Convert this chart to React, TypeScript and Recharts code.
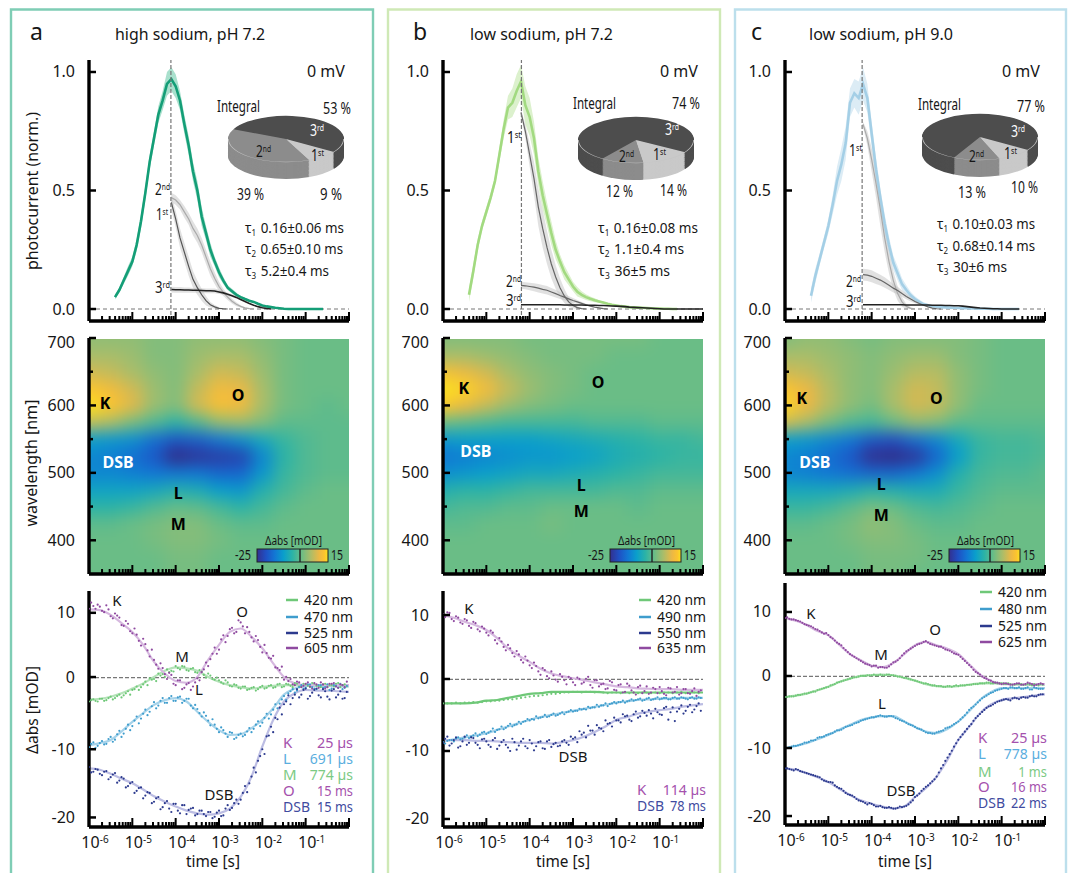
import {
  Area,
  Cell,
  ComposedChart,
  Line,
  Pie,
  PieChart,
  ReferenceLine,
  Scatter,
  ScatterChart,
  XAxis,
  YAxis,
} from 'recharts'

const FONT = '"Noto Sans", sans-serif'
const INK = '#161616'
const PLOT_W = 260
const AXIS_W = 50

// time axis, log10(t / s)
const DECADES = [-6, -5, -4, -3, -2, -1]
const LOG_STEPS = [0.301, 0.477, 0.602, 0.699, 0.778, 0.845, 0.903, 0.954]
const TIME_TICKS = [...DECADES.flatMap((d) => [d, ...LOG_STEPS.map((s) => d + s)]), 0]

// ---- photocurrent traces (top row) ----
const PHOTO_TIMES = [-5.4, -5.3, -5.2, -5.1, -5, -4.9, -4.8, -4.7, -4.6, -4.5, -4.4, -4.3, -4.2, -4.1, -4, -3.9, -3.8, -3.7, -3.6, -3.5, -3.4, -3.3, -3.2, -3.1, -3, -2.9, -2.8, -2.7, -2.6, -2.5, -2.4, -2.3, -2.2, -2.1, -2, -1.9, -1.8, -1.7, -1.6, -1.5, -1.4, -1.3, -1.2, -1.1, -1, -0.9, -0.8, -0.7, -0.6, -0.5, -0.4, -0.3, -0.2, -0.1, 0]

const A_TRACE = [0.05, 0.08, 0.12, 0.16, 0.2, 0.27, 0.37, 0.49, 0.62, 0.72, 0.82, 0.88, 0.95, 0.97, 0.94, 0.88, 0.78, 0.69, 0.58, 0.5, 0.39, 0.32, 0.25, 0.2, 0.155, 0.12, 0.09, 0.075, 0.06, 0.05, 0.042, 0.035, 0.03, 0.022, 0.015, 0.011, 0.008, 0.005, 0.003, 0.001, 0, 0, 0, 0, 0, 0, 0, 0, 0]
const A_TRACE_SD = [0.01, 0.01, 0.015, 0.02, 0.02, 0.025, 0.03, 0.03, 0.03, 0.03, 0.035, 0.04, 0.05, 0.05, 0.05, 0.04, 0.04, 0.04, 0.04, 0.04, 0.04, 0.03, 0.03, 0.02, 0.02, 0.015, 0.01, 0.01, 0.01, 0.005, 0.005]
const A_FIRST = [0.45, 0.38, 0.3, 0.24, 0.18, 0.125, 0.09, 0.06, 0.035, 0.018, 0.009, 0.003, 0.001, 0]
const A_FIRST_SD = [0.03, 0.035, 0.04, 0.04, 0.04, 0.035, 0.03, 0.025, 0.02, 0.012, 0.008, 0.004]
const A_SECOND = [0.47, 0.46, 0.44, 0.41, 0.38, 0.34, 0.31, 0.27, 0.22, 0.17, 0.13, 0.095, 0.07, 0.05, 0.033, 0.02, 0.011, 0.005, 0.002, 0]
const A_SECOND_SD = [0.02, 0.02, 0.02, 0.025, 0.025, 0.03, 0.03, 0.03, 0.03, 0.03, 0.025, 0.02, 0.015, 0.012, 0.01, 0.008, 0.005]
const A_THIRD = [0.082, 0.081, 0.081, 0.08, 0.08, 0.079, 0.079, 0.078, 0.077, 0.077, 0.076, 0.072, 0.068, 0.062, 0.056, 0.049, 0.04, 0.032, 0.023, 0.016, 0.01, 0.005, 0.002, 0]
const A_THIRD_SD = [0.012, 0.012, 0.012, 0.011, 0.011, 0.01, 0.01, 0.01, 0.01, 0.01, 0.01, 0.009, 0.008, 0.007, 0.006, 0.005, 0.004, 0.003]

const B_TRACE = [0.06, 0.16, 0.27, 0.35, 0.41, 0.47, 0.54, 0.65, 0.76, 0.85, 0.87, 0.92, 0.96, 0.86, 0.81, 0.72, 0.58, 0.48, 0.4, 0.32, 0.25, 0.2, 0.155, 0.125, 0.095, 0.073, 0.06, 0.05, 0.043, 0.037, 0.032, 0.027, 0.022, 0.018, 0.015, 0.012, 0.01, 0.008, 0.007, 0.006, 0.005, 0.004, 0.003, 0.002, 0.002, 0.001, 0.001, 0, 0]
const B_TRACE_SD = [0.03, 0.03, 0.025, 0.02, 0.02, 0.02, 0.02, 0.03, 0.04, 0.05, 0.06, 0.07, 0.07, 0.08, 0.08, 0.07, 0.06, 0.06, 0.05, 0.05, 0.04, 0.03, 0.03, 0.025, 0.02, 0.02, 0.015, 0.012, 0.01, 0.008, 0.006, 0.005]
const B_FIRST = [0.83, 0.75, 0.65, 0.55, 0.43, 0.34, 0.26, 0.19, 0.135, 0.09, 0.055, 0.03, 0.015, 0.006, 0.002, 0]
const B_FIRST_SD = [0.01, 0.03, 0.05, 0.07, 0.08, 0.08, 0.07, 0.06, 0.05, 0.04, 0.03, 0.02, 0.012, 0.006]
const B_SECOND = [0.1, 0.098, 0.095, 0.092, 0.088, 0.083, 0.079, 0.072, 0.065, 0.057, 0.05, 0.043, 0.036, 0.03, 0.024, 0.018, 0.012, 0.008, 0.005, 0.002, 0]
const B_SECOND_SD = [0.015, 0.015, 0.016, 0.017, 0.018, 0.018, 0.018, 0.017, 0.016, 0.015, 0.013, 0.012, 0.01, 0.008, 0.006, 0.004]
const B_THIRD = [0.018, 0.018, 0.018, 0.018, 0.018, 0.018, 0.018, 0.018, 0.018, 0.018, 0.017, 0.017, 0.017, 0.017, 0.017, 0.016, 0.016, 0.016, 0.015, 0.015, 0.014, 0.013, 0.012, 0.011, 0.01, 0.008, 0.007, 0.006, 0.005, 0.004, 0.003, 0.002, 0.001, 0, 0, 0, 0, 0, 0, 0, 0, 0, 0]

const C_TRACE = [0.056, 0.14, 0.21, 0.28, 0.35, 0.44, 0.54, 0.61, 0.7, 0.87, 0.91, 0.89, 0.95, 0.89, 0.74, 0.59, 0.47, 0.36, 0.27, 0.195, 0.15, 0.105, 0.08, 0.058, 0.042, 0.03, 0.02, 0.016, 0.012, 0.01, 0.008, 0.007, 0.006, 0.005, 0.004, 0.003, 0.003, 0.002, 0.002, 0.001, 0.001, 0.001, 0, 0, 0, 0, 0, 0, 0]
const C_TRACE_SD = [0.03, 0.03, 0.025, 0.025, 0.03, 0.04, 0.06, 0.07, 0.07, 0.06, 0.06, 0.07, 0.07, 0.06, 0.05, 0.05, 0.04, 0.04, 0.035, 0.03, 0.03, 0.025, 0.02, 0.015, 0.012, 0.01, 0.008, 0.006]
const C_FIRST = [0.78, 0.72, 0.63, 0.53, 0.42, 0.3, 0.2, 0.12, 0.065, 0.03, 0.011, 0.003, 0]
const C_FIRST_SD = [0.01, 0.03, 0.05, 0.06, 0.07, 0.06, 0.05, 0.04, 0.03, 0.02, 0.01, 0.005]
const C_SECOND = [0.145, 0.143, 0.138, 0.13, 0.122, 0.112, 0.1, 0.088, 0.078, 0.065, 0.053, 0.042, 0.032, 0.023, 0.016, 0.009, 0.004, 0.001, 0]
const C_SECOND_SD = [0.025, 0.025, 0.025, 0.024, 0.023, 0.022, 0.02, 0.018, 0.016, 0.014, 0.012, 0.01, 0.008, 0.006]
const C_THIRD = [0.018, 0.018, 0.018, 0.018, 0.018, 0.018, 0.018, 0.018, 0.018, 0.018, 0.017, 0.017, 0.017, 0.017, 0.017, 0.017, 0.016, 0.016, 0.016, 0.015, 0.015, 0.014, 0.014, 0.012, 0.01, 0.008, 0.006, 0.004, 0.003, 0.002, 0.001, 0.001, 0, 0, 0, 0, 0]

// ---- integrals (pies) ----
const PIE_COLORS = ['#4d4d4d', '#8c8c8c', '#c9c9c9']
const A_INTEGRAL = [53, 39, 9]
const B_INTEGRAL = [74, 12, 14]
const C_INTEGRAL = [77, 13, 10]
const PIE_LAYERS = [42, 40, 38, 36, 34, 32, 30, 28, 26, 24, 22, 20, 18, 16, 14, 12, 10, 8, 6, 4, 2, 0]

// ---- absorbance maps (middle row), mOD ----
const HEAT_TIMES = [-6, -5.5, -5, -4.5, -4, -3.5, -3, -2.5, -2, -1.5, -1, -0.5, 0]
const HEAT_NM = [700, 675, 650, 625, 600, 575, 550, 525, 500, 475, 450, 425, 400, 375, 350]
const HEAT_TICKS = [700, 650, 600, 550, 500, 450, 400]

const A_HEAT = [
  [3, 3, 3, 2, 2, 3, 3, 3, 2, 1, 0, 0, 0],
  [5, 5, 4, 2, 2, 4, 5, 5, 3, 1, 0, 0, 0],
  [8, 7, 5, 3, 2, 5, 8, 7, 4, 1, 0, 0, 0],
  [13, 11, 8, 4, 2, 7, 11, 10, 5, 1, 0, 0, 0],
  [16, 13, 9, 4, 2, 8, 12, 11, 5, 1, 0, -1, 0],
  [7, 5, 1, -2, -5, -2, 3, 4, 2, -1, -1, -1, -1],
  [-10, -11, -12, -16, -19, -18, -15, -12, -8, -4, -2, -1, -1],
  [-13, -14, -16, -19, -26, -24, -23, -22, -13, -5, -2, -1, -1],
  [-13, -13, -14, -15, -15, -15, -17, -17, -11, -4, -2, -1, -1],
  [-9, -9, -9, -8, -6, -7, -10, -11, -6, -3, -1, 0, 0],
  [-5, -5, -4, -2, -0.5, -1, -3, -5, -3, -1, 0, 0, 0],
  [-1, -1, 0, 1, 2, 2, 0, -1, -1, 0, 0, 0, 0],
  [0, 0, 0, 1, 2, 2, 1, 0, 0, 0, 0, 0, 0],
  [0, 0, 0, 0, 1, 1, 0, 0, 0, 0, 0, 0, 0],
  [0, 0, 0, 0, 1, 1, 0, 0, 0, 0, 0, 0, 0],
]
const B_HEAT = [
  [2, 2, 2, 2, 1, 1, 1, 1, 1, 1, 0, 0, 0],
  [5, 5, 4, 3, 2, 1, 1, 1, 0, 0, 0, 0, 0],
  [12, 10, 8, 5, 3, 2, 1, 0, 0, 0, 0, 0, 0],
  [16, 14, 11, 7, 4, 2, 1, 0, 0, 0, 0, 0, 0],
  [13, 10, 7, 4, 2, 1, 0, 0, 0, 0, 0, 0, 0],
  [0, -1, -2, -3, -3, -3, -3, -2, -2, -2, -1, -1, -1],
  [-11, -10, -10, -10, -10, -9, -8, -7, -6, -5, -4, -4, -3],
  [-15, -14, -13, -12, -11, -11, -10, -9, -7, -6, -5, -4, -4],
  [-12, -11, -10, -9, -8, -8, -7, -6, -5, -4, -3, -3, -3],
  [-6, -5, -5, -4, -3, -3, -3, -3, -2, -2, -1, -1, -1],
  [-3, -2, -2, -1, -1, 0, 0, 0, 0, -1, 0, 0, 0],
  [-1, -1, 0, 0, 0, 1, 0, 0, 0, 0, 0, 0, 0],
  [0, 0, 0, 0, 0, 0, 0, 0, 0, 0, 0, 0, 0],
  [0, 0, 0, 0, 0, 0, 0, 0, 0, 0, 0, 0, 0],
  [0, 0, 0, 0, 0, 0, 0, 0, 0, 0, 0, 0, 0],
]
const C_HEAT = [
  [2, 3, 3, 2, 1, 2, 2, 2, 2, 1, 0, 0, 0],
  [5, 5, 4, 3, 2, 3, 4, 4, 2, 1, 0, 0, 0],
  [8, 7, 5, 3, 2, 4, 6, 6, 3, 1, 0, 0, 0],
  [13, 10, 6, 3, 2, 5, 8, 7, 3, 1, 0, 0, 0],
  [14, 10, 6, 3, 1, 5, 8, 7, 3, 0, 0, 0, 0],
  [8, 5, 1, -2, -3, 0, 3, 2, -1, -1, -1, -1, -1],
  [-10, -11, -13, -15, -19, -20, -16, -13, -8, -4, -3, -3, -2],
  [-13, -14, -16, -19, -25, -26, -24, -17, -10, -4, -3, -3, -2],
  [-13, -14, -15, -16, -17, -17, -15, -12, -6, -3, -2, -2, -1],
  [-8, -8, -8, -7, -5, -6, -7, -7, -4, -2, -1, -1, -1],
  [-4, -4, -3, -1, 1, 0, -2, -3, -2, -1, 0, 0, 0],
  [-1, -1, 0, 1, 3, 2, 0, -1, -1, 0, 0, 0, 0],
  [0, 0, 0, 1, 2, 2, 1, 0, 0, 0, 0, 0, 0],
  [0, 0, 0, 0, 1, 1, 1, 0, 0, 0, 0, 0, 0],
  [0, 0, 0, 0, 1, 1, 0, 0, 0, 0, 0, 0, 0],
]
const A_HEAT_LABELS = [
  { name: 'K', x: -5.63, y: 603, fill: '#000' },
  { name: 'O', x: -2.56, y: 615, fill: '#000' },
  { name: 'DSB', x: -5.33, y: 516, fill: '#fff' },
  { name: 'L', x: -3.94, y: 470, fill: '#000' },
  { name: 'M', x: -3.94, y: 424, fill: '#000' },
]
const B_HEAT_LABELS = [
  { name: 'K', x: -5.52, y: 626, fill: '#000' },
  { name: 'O', x: -2.42, y: 635, fill: '#000' },
  { name: 'DSB', x: -5.24, y: 532, fill: '#fff' },
  { name: 'L', x: -2.81, y: 482, fill: '#000' },
  { name: 'M', x: -2.81, y: 444, fill: '#000' },
]
const C_HEAT_LABELS = [
  { name: 'K', x: -5.61, y: 611, fill: '#000' },
  { name: 'O', x: -2.51, y: 611, fill: '#000' },
  { name: 'DSB', x: -5.31, y: 516, fill: '#fff' },
  { name: 'L', x: -3.78, y: 483, fill: '#000' },
  { name: 'M', x: -3.78, y: 437, fill: '#000' },
]
const HEAT_STOPS: [number, string][] = [
  [-28, '#2f2478'],
  [-25, '#33308f'],
  [-20, '#1f50c4'],
  [-15, '#1277d4'],
  [-10, '#0a9fcb'],
  [-5, '#2cb3a6'],
  [0, '#6abd86'],
  [5, '#a9bd6a'],
  [10, '#ecb845'],
  [13, '#fcc42f'],
  [15, '#f8e41f'],
]

// ---- kinetic traces (bottom row), mOD ----
const FIT_TIMES = [-6, -5.75, -5.5, -5.25, -5, -4.75, -4.5, -4.25, -4, -3.75, -3.5, -3.25, -3, -2.75, -2.5, -2.25, -2, -1.75, -1.5, -1.25, -1, -0.75, -0.5, -0.25, 0]
const DOT_TIMES = [-6, -5.9, -5.8, -5.7, -5.6, -5.5, -5.4, -5.3, -5.2, -5.1, -5, -4.9, -4.8, -4.7, -4.6, -4.5, -4.4, -4.3, -4.2, -4.1, -4, -3.9, -3.8, -3.7, -3.6, -3.5, -3.4, -3.3, -3.2, -3.1, -3, -2.9, -2.8, -2.7, -2.6, -2.5, -2.4, -2.3, -2.2, -2.1, -2, -1.9, -1.8, -1.7, -1.6, -1.5, -1.4, -1.3, -1.2, -1.1, -1, -0.9, -0.8, -0.7, -0.6, -0.5, -0.4, -0.3, -0.2, -0.1]
const DOT_TIMES_2 = [-5.95, -5.85, -5.75, -5.65, -5.55, -5.45, -5.35, -5.25, -5.15, -5.05, -4.95, -4.85, -4.75, -4.65, -4.55, -4.45, -4.35, -4.25, -4.15, -4.05, -3.95, -3.85, -3.75, -3.65, -3.55, -3.45, -3.35, -3.25, -3.15, -3.05, -2.95, -2.85, -2.75, -2.65, -2.55, -2.45, -2.35, -2.25, -2.15, -2.05, -1.95, -1.85, -1.75, -1.65, -1.55, -1.45, -1.35, -1.25, -1.15, -1.05, -0.95, -0.85, -0.75, -0.65, -0.55, -0.45, -0.35, -0.25, -0.15, -0.05]

const A_FIT_420 = [-2.7, -2.6, -2.3, -1.8, -1.1, -0.35, 0.6, 1.5, 2, 1.85, 1.5, 0.6, -0.1, -0.6, -0.9, -1.1, -0.9, -0.7, -0.6, -0.6, -0.6, -0.6, -0.6, -0.7, -0.7]
const A_DOTS_420 = [-3, -2.7, -3, -2.6, -2.8, -2.3, -2.5, -2, -2.1, -1.5, -1.3, -0.8, -0.9, -0.1, 0.4, 0.3, 1.1, 1, 1.7, 1.5, 2.2, 1.7, 2.1, 1.5, 1.9, 1.2, 1.4, 0.5, 0.8, 0.2, 0.1, -0.4, -0.2, -0.8, -0.6, -1.1, -0.8, -1.2, -0.9, -1.2, -0.7, -1, -0.6, -0.9, -0.4, -0.8, -0.5, -0.9, -0.4, -0.8, -0.5, -0.9, -0.4, -0.8, -0.5, -0.9, -0.6, -0.4, -0.9, -0.5]
const A_DOTS2_420 = [-2.8, -2.9, -2.6, -2.9, -2.5, -2.7, -2.2, -2.4, -1.8, -2, -1.2, -1.3, -0.5, -0.6, 0.2, 0, 0.8, 0.6, 1.3, 1.4, 1.9, 2.2, 1.6, 1.8, 1.3, 1.6, 0.9, 1.1, 0.3, 0.5, -0.2, 0.1, -0.7, -0.5, -1, -0.8, -1.3, -1, -1.4, -0.9, -1.1, -0.7, -1, -0.5, -0.9, -0.4, -0.7, -0.3, -0.8, -0.4, -0.7, -0.3, -0.7, -0.9, -0.4, -0.6, -0.8, -0.3, -0.6, -0.8]
const A_FIT_470 = [-9.4, -9.1, -8.65, -7.4, -6, -4.7, -3.5, -2.8, -2.5, -3, -4.5, -6, -7.2, -7.9, -7.8, -6.9, -5.7, -4, -2, -1.1, -0.7, -0.7, -0.7, -0.8, -0.8]
const A_DOTS_470 = [-9.7, -9, -9.5, -8.8, -9.2, -8.2, -8.6, -7.3, -7.7, -6.4, -6.6, -5.2, -5.5, -4.2, -4.5, -3.1, -3.6, -2.5, -3.2, -2.2, -2.9, -2.3, -2.9, -2.6, -4, -4.1, -5.2, -5.1, -6.5, -6.4, -7.5, -7.2, -8.2, -7.6, -8.3, -7.7, -7.9, -6.9, -7, -5.9, -6.1, -4.8, -4.9, -3.4, -3.3, -2.2, -1.8, -1.2, -1.4, -0.6, -1, -0.5, -1.1, -0.6, -1, -0.5, -1.1, -0.7, -0.4, -1]
const A_DOTS2_470 = [-9.2, -9.8, -9.1, -9.3, -8.5, -8.9, -7.8, -8.2, -7, -7.2, -5.8, -6.2, -4.8, -5, -3.7, -4, -2.9, -3.2, -2.5, -2.9, -2.4, -3.2, -2.6, -3.6, -3.5, -4.7, -4.6, -5.8, -5.6, -7, -6.8, -7.7, -7.5, -8.5, -7.9, -8.1, -7.4, -7.5, -6.4, -6.6, -5.4, -5.5, -4.2, -4, -2.7, -2.8, -1.5, -1.7, -0.9, -1.1, -0.5, -0.9, -1.2, -0.6, -0.9, -1.3, -0.6, -1, -1.2, -0.7]
const A_FIT_525 = [-12.8, -13, -13.6, -14.3, -15, -15.9, -16.9, -17.7, -18.4, -19, -19.4, -19.6, -19.4, -18.7, -17, -14, -9.6, -5.7, -3, -1.8, -1.3, -1.4, -1.4, -1.5, -1.6]
const A_DOTS_525 = [-12.6, -13.3, -13, -13.8, -13.2, -14.1, -13.5, -14.6, -14.3, -15.4, -14.8, -16.1, -15.6, -16.8, -16.4, -17.7, -17, -18.5, -17.6, -19.2, -18, -19.4, -18.2, -18.9, -18.6, -19.5, -19, -19.8, -19.2, -19.9, -19, -19.7, -18.2, -18.6, -17.4, -17.4, -15.4, -15, -12.7, -11.7, -10, -8.1, -6.7, -5.4, -3.9, -3.4, -2.1, -2.5, -1.2, -2, -1.1, -2.2, -1.3, -2.1, -1.2, -2.3, -1.4, -2.4, -1.5, -2.5]
const A_DOTS2_525 = [-13.4, -12.9, -13.6, -13.3, -14.4, -13.7, -14.9, -14.1, -15.6, -15, -16.4, -15.7, -17.2, -16.3, -17.9, -17.2, -18.8, -17.9, -18.7, -18, -19, -18.2, -19.5, -18.7, -19.7, -19, -19.5, -19.2, -20.1, -19.3, -19.8, -18.7, -18.9, -17.9, -18, -16.4, -16.3, -14, -13.4, -11, -10.7, -8, -7.5, -5.6, -4.9, -3, -3.4, -2, -2.4, -1.3, -2.6, -1.7, -1.1, -2.4, -1.5, -2.7, -1.2, -2, -2.6, -1.6]
const A_FIT_605 = [10.5, 10.4, 9.7, 8.5, 7.2, 5.3, 2.8, 1.1, 0, -0.25, 0.6, 3.1, 5.3, 7.2, 7.7, 6.5, 4.8, 2.6, 0.6, -0.35, -0.6, -0.6, -0.6, -0.6, -0.6]
const A_DOTS_605 = [10.6, 11, 11.2, 10.3, 11.1, 9.5, 9.9, 9.3, 8.1, 8.4, 7, 6.8, 5.2, 5.4, 3.6, 3.1, 1.8, 1.9, 0.3, 0.9, -0.6, 0.1, -1, -0.3, -0.8, 0.4, 1.3, 2.7, 3.2, 4.9, 4.6, 6.7, 6.6, 7.8, 7.2, 8.6, 7, 7.2, 5.8, 6, 4.2, 4.1, 3.3, 2, 1.6, 0.2, 0, -0.5, -0.1, -0.9, -0.4, -0.8, -0.3, -1, -0.5, -0.9, -0.4, -0.8, -0.5, -0.9]
const A_DOTS2_605 = [11.5, 10.6, 10.9, 10.1, 10.5, 9.2, 9.6, 8.2, 8.8, 7.3, 7.7, 5.9, 6.2, 4.5, 4.6, 2.4, 2.6, 1, 1.2, -0.4, 0.1, -1.2, -0.5, -1.3, -0.2, 0.1, 1.7, 2.2, 4, 4, 6.1, 5.7, 7.6, 7, 8.9, 8, 7.9, 6.4, 6.6, 5, 5.3, 3.4, 3.7, 1.9, 2.1, 0.6, 0.3, -0.6, -0.2, -0.7, -0.2, -1.1, -0.5, -0.2, -1.1, -0.4, -0.3, -1, -0.6, -0.1]

const B_FIT_420 = [-3, -3, -3, -2.9, -2.6, -2.5, -2.2, -1.9, -1.6, -1.5, -1.3, -1.3, -1.3, -1.3, -1.3, -1.4, -1.4, -1.4, -1.4, -1.4, -1.4, -1.4, -1.4, -1.4, -1.4]
const B_DOTS_420 = [-3, -3, -3, -2.9, -3, -2.9, -2.9, -2.8, -2.9, -2.8, -2.7, -2.7, -2.6, -2.6, -2.5, -2.4, -2.4, -2.3, -2.2, -2.1, -2, -1.9, -1.9, -1.8, -1.7, -1.6, -1.6, -1.5, -1.4, -1.4, -1.3, -1.3, -1.4, -1.3, -1.3, -1.4, -1.3, -1.4, -1.5, -1.4, -1.4, -1.5, -1.4, -1.5, -1.4, -1.5, -1.4, -1.4, -1.5, -1.4, -1.5, -1.4, -1.4, -1.5, -1.4, -1.3, -1.5, -1.4, -1.4, -1.5]
const B_FIT_490 = [-8.6, -8.3, -8, -7.7, -7.4, -6.9, -6.4, -5.9, -5.4, -5, -4.7, -4.4, -4.1, -3.8, -3.5, -3.2, -2.9, -2.7, -2.5, -2.4, -2.3, -2.3, -2.2, -2.2, -2.2]
const B_DOTS_490 = [-8.7, -8.5, -8.4, -8.2, -8.3, -8, -8.1, -7.7, -7.8, -7.3, -7.5, -7.1, -7.2, -6.8, -6.8, -6.3, -6.4, -6.1, -6, -5.6, -5.5, -5.4, -5.2, -5, -5, -4.7, -4.8, -4.5, -4.6, -4.2, -4.2, -4.1, -3.9, -3.9, -3.7, -3.6, -3.5, -3.3, -3.4, -3, -3, -2.8, -2.9, -2.6, -2.6, -2.4, -2.6, -2.3, -2.5, -2.3, -2.4, -2.2, -2.4, -2.2, -2.3, -2.1, -2.3, -2.2, -2.3, -2.1]
const B_DOTS2_490 = [-8.9, -8.4, -8.6, -8, -8.2, -7.7, -7.9, -7.4, -7.6, -7.2, -7.3, -6.7, -6.9, -6.4, -6.6, -6, -6.2, -5.7, -5.7, -5.3, -5.3, -4.9, -5.1, -4.7, -4.9, -4.5, -4.7, -4.3, -4.3, -4, -4.1, -3.8, -3.8, -3.5, -3.6, -3.2, -3.3, -3, -3.1, -2.8, -2.8, -2.6, -2.7, -2.4, -2.5, -2.3, -2.5, -2.2, -2.4, -2.1, -2.3, -2.2, -2.4, -2.1, -2.3, -2.2, -2.4, -2.1, -2.3, -2.2]
const B_FIT_550 = [-8.4, -8.4, -8.4, -8.5, -8.5, -8.6, -8.7, -8.8, -8.8, -8.8, -8.9, -8.7, -8.4, -7.9, -7.2, -6.4, -5.4, -5, -4.5, -4.2, -4, -3.8, -3.5, -3.3, -3.1]
const B_DOTS_550 = [-8.8, -7.9, -8.9, -8, -9.3, -7.9, -8.8, -8.1, -9.1, -8.3, -8.6, -9.4, -8.1, -9.2, -8.4, -9.5, -8.2, -9.8, -8.6, -9.3, -8.4, -9.9, -8.7, -9.6, -8.6, -9.4, -8.8, -9.2, -8.4, -9.1, -8.2, -8.7, -7.6, -8, -7, -7.6, -6.6, -7.1, -6, -6.4, -5.5, -5.8, -4.9, -5.4, -4.6, -5.1, -4.1, -4.8, -4.5, -3.8, -4.6, -3.7, -5.4, -3.6, -4.2, -3.3, -4.1, -3.2, -3.9, -3]
const B_DOTS2_550 = [-8.2, -9.2, -8.4, -9.5, -8.6, -9.1, -8, -8.8, -9.6, -8.2, -9.1, -8.4, -9.7, -8.7, -9.1, -10, -8.7, -9.2, -8.2, -9.6, -8.9, -9.3, -8.6, -9.7, -8.4, -9, -9.3, -8.6, -8.8, -7.9, -8, -7.1, -7.3, -6.3, -7, -6.2, -6.7, -5.5, -5.9, -5.1, -5.5, -4.6, -4.8, -5.6, -4.2, -4.9, -4.4, -4, -5.2, -4.3, -4.7, -3.5, -4.3, -5.6, -3.8, -4.5, -3.5, -4.3, -3.4, -4.1]
const B_FIT_635 = [10, 9.6, 9, 8.5, 7.8, 6.6, 5.1, 4, 3.1, 2.1, 1.4, 1, 0.7, 0.4, 0.1, -0.2, -0.5, -0.6, -0.8, -0.85, -0.9, -0.9, -1, -1, -1]
const B_DOTS_635 = [10.1, 10.4, 9.4, 9.8, 8.9, 9.4, 8.4, 9, 7.9, 8.3, 7.4, 7.7, 6.3, 6.6, 5.3, 5.6, 4.4, 4.7, 3.4, 3.9, 2.6, 3, 1.7, 2.2, 1, 1.7, 0.5, 1.3, 0.4, 0.9, 0.1, 0.8, -0.1, 0.6, -0.3, 0.4, -0.5, -0.1, -0.8, 0.1, -1.1, -0.2, -1.3, -0.4, -1.4, -0.6, -1.5, -0.5, -1.4, -0.9, -0.6, -1.6, -0.7, -1.4, -0.6, -1.5, -0.9, -1.6, -0.8, -1.3]
const B_DOTS2_635 = [9.7, 10.3, 9.1, 9.6, 8.7, 9.2, 8.1, 8.8, 7.6, 8, 7, 7.4, 5.8, 6.1, 4.8, 5.1, 3.9, 4.2, 3, 3.3, 2.2, 2.5, 1.2, 1.9, 0.7, 1.1, 0.2, 0.9, -0.2, 0.7, -0.3, 0.6, 0.1, 0.9, -0.7, 0.4, -0.2, -0.9, 0.3, -1, -0.3, -1.4, -0.1, -1.1, -1.7, -0.4, -1.2, -1.6, -0.7, -1.5, -1.2, -1.8, -0.8, -1.3, -1.7, -0.9, -1.5, -1.2, -1.9, -1.1]

const C_FIT_420 = [-2.5, -2.3, -2, -1.5, -1, -0.3, 0.2, 0.6, 0.7, 0.8, 0.7, 0.3, -0.1, -0.6, -0.9, -1, -0.9, -0.7, -0.5, -0.5, -0.5, -0.6, -0.7, -0.7, -0.7]
const C_DOTS_420 = [-2.5, -2.4, -2.4, -2.2, -2.1, -2, -1.8, -1.7, -1.4, -1.2, -1, -0.7, -0.4, -0.2, 0, 0.2, 0.4, 0.5, 0.6, 0.7, 0.7, 0.7, 0.8, 0.7, 0.8, 0.7, 0.5, 0.4, 0.3, 0.1, -0.1, -0.3, -0.5, -0.6, -0.8, -0.9, -0.9, -1, -0.9, -0.9, -0.9, -0.8, -0.7, -0.7, -0.6, -0.5, -0.5, -0.4, -0.5, -0.5, -0.5, -0.6, -0.6, -0.7, -0.6, -0.7, -0.6, -0.8, -0.7, -0.6]
const C_DOTS2_420 = [-2.5, -2.4, -2.3, -2.2, -2, -1.9, -1.7, -1.5, -1.3, -1.1, -0.8, -0.6, -0.3, -0.1, 0.1, 0.3, 0.4, 0.6, 0.6, 0.7, 0.8, 0.7, 0.7, 0.8, 0.7, 0.6, 0.5, 0.3, 0.2, 0, -0.2, -0.4, -0.5, -0.7, -0.8, -0.9, -1, -0.9, -1, -0.8, -0.8, -0.8, -0.7, -0.6, -0.6, -0.5, -0.4, -0.5, -0.4, -0.5, -0.6, -0.5, -0.7, -0.6, -0.6, -0.7, -0.7, -0.6, -0.8, -0.7]
const C_FIT_480 = [-10, -9.7, -9.3, -8.7, -8.1, -7.3, -6.6, -5.9, -5.5, -5.3, -5.3, -6.1, -6.9, -7.6, -7.8, -7.2, -6.1, -4.6, -2.9, -1.8, -1.2, -1.2, -1.2, -1.2, -1.2]
const C_DOTS_480 = [-10, -9.9, -9.7, -9.6, -9.4, -9.2, -8.9, -8.8, -8.4, -8.3, -8, -7.8, -7.4, -7.3, -6.9, -6.7, -6.4, -6.2, -5.9, -5.7, -5.5, -5.4, -5.2, -5.4, -5.3, -5.4, -5.7, -6, -6.3, -6.6, -6.9, -7.2, -7.5, -7.8, -7.9, -7.7, -7.5, -7.1, -6.9, -6.5, -6.1, -5.5, -4.8, -4.1, -3.6, -3, -2.5, -2.1, -1.8, -1.5, -1.3, -1.2, -1.1, -1.2, -1.1, -1.3, -1.1, -1.4, -1.2, -1.3]
const C_DOTS2_480 = [-10, -9.8, -9.7, -9.5, -9.2, -9.1, -8.9, -8.5, -8.4, -8.1, -7.9, -7.6, -7.4, -7.1, -6.8, -6.6, -6.3, -6, -5.8, -5.6, -5.5, -5.3, -5.3, -5.4, -5.3, -5.6, -5.9, -6.1, -6.5, -6.7, -7.1, -7.3, -7.7, -7.8, -7.9, -7.6, -7.4, -7, -6.7, -6.3, -5.8, -5.2, -4.4, -3.9, -3.3, -2.7, -2.3, -1.9, -1.6, -1.4, -1.2, -1.3, -1.1, -1.2, -1.3, -1.2, -1.4, -1.1, -1.3, -1.3]
const C_FIT_525 = [-13, -13.2, -13.7, -14.3, -15, -16, -16.9, -17.7, -18.2, -18.6, -18.9, -18.6, -17.2, -15.9, -14.2, -11.7, -8.8, -6.9, -4.9, -3.6, -2.9, -2.7, -2.5, -2.3, -2.1]
const C_DOTS_525 = [-13, -13.1, -13.3, -13.2, -13.5, -13.7, -13.9, -14.1, -14.3, -14.8, -15, -15.1, -15.7, -16, -16.6, -16.9, -17.2, -17.7, -17.9, -18.3, -18.2, -18.6, -18.5, -18.8, -18.7, -18.9, -18.8, -18.7, -18.5, -18, -17.2, -16.7, -16, -15.5, -14.9, -14.2, -13, -11.9, -10.9, -9.8, -8.8, -8, -7.2, -6.5, -5.6, -5, -4.4, -3.9, -3.6, -3.2, -3, -2.8, -3, -2.6, -2.8, -2.5, -2.6, -2.3, -2.4, -2.1]
const C_DOTS2_525 = [-13, -13.2, -13.1, -13.4, -13.6, -13.8, -14, -14.2, -14.6, -14.9, -15, -15.5, -15.9, -16.3, -16.8, -17, -17.5, -17.8, -18.1, -18.1, -18.4, -18.6, -18.7, -18.8, -18.8, -18.9, -18.6, -18.6, -18.3, -17.7, -17, -16.3, -15.7, -15.2, -14.6, -13.6, -12.5, -11.4, -10.4, -9.3, -8.4, -7.6, -6.8, -6, -5.3, -4.7, -4.1, -3.8, -3.4, -3.1, -2.9, -2.9, -2.7, -2.7, -2.6, -2.6, -2.4, -2.4, -2.2, -2.1]
const C_FIT_625 = [9.1, 8.7, 8.1, 7.2, 6.6, 5.2, 3.8, 2.9, 2.1, 1.9, 2.5, 3.8, 5.1, 5.6, 5.1, 4.6, 3.8, 2.3, 0.8, -0.1, -0.6, -0.6, -0.6, -0.6, -0.6]
const C_DOTS_625 = [9.1, 9, 8.9, 8.7, 8.4, 8.1, 7.9, 7.5, 7.2, 6.8, 6.6, 6.1, 5.5, 5.1, 4.4, 3.8, 3.4, 3, 2.6, 2.3, 2, 2.1, 1.9, 1.8, 2, 2.6, 2.9, 3.6, 4.2, 4.6, 5, 5.3, 5.6, 5.5, 5.2, 5, 4.9, 4.5, 4.3, 3.9, 3.7, 3.1, 2.5, 1.9, 1.2, 0.8, 0.3, 0, -0.3, -0.4, -0.6, -0.5, -0.7, -0.6, -0.5, -0.7, -0.4, -0.6, -0.7, -0.5]
const C_DOTS2_625 = [9.2, 8.9, 8.8, 8.6, 8.2, 8, 7.7, 7.4, 7, 6.9, 6.3, 5.8, 5.3, 4.7, 4.1, 3.6, 3.2, 2.8, 2.4, 2.2, 2.1, 1.8, 1.9, 1.8, 2.3, 2.7, 3.2, 3.9, 4.4, 4.8, 5.2, 5.4, 5.7, 5.3, 5.1, 4.9, 4.7, 4.4, 4.1, 3.8, 3.4, 2.8, 2.2, 1.5, 1, 0.5, 0.2, -0.1, -0.4, -0.5, -0.5, -0.6, -0.7, -0.5, -0.7, -0.6, -0.5, -0.8, -0.6, -0.6]

const KIN_TICKS = [10, 0, -10, -20]
const GREEN = { dot: '#6fc878', fit: '#b5e3b9', text: '#7cca84' }
const BLUE = { dot: '#3f9dcd', fit: '#a6d3ea', text: '#5aaede' }
const NAVY = { dot: '#2c3a8e', fit: '#bcbde3', text: '#3f4ba0' }
const PURPLE = { dot: '#8f4aa0', fit: '#d6b8df', text: '#a551ad' }

const PANELS = [
  {
    letter: 'a', letterX: 30, title: 'high sodium, pH 7.2', titleX: 115, titleW: 150,
    border: { x: 11, w: 362, color: '#7fcdb5' }, plotX: 89,
    trace: A_TRACE, traceSd: A_TRACE_SD, traceColor: '#149e77', bandColor: '#a9e0cd',
    start: 13, peakT: -4.11,
    comps: [
      { v: A_FIRST, sd: A_FIRST_SD, color: '#555' },
      { v: A_SECOND, sd: A_SECOND_SD, color: '#aaa' },
      { v: A_THIRD, sd: A_THIRD_SD, color: '#222' },
    ],
    pie: { v: A_INTEGRAL, cx: 286, cy: 139, start: -34 },
    heat: A_HEAT, heatLabels: A_HEAT_LABELS,
    kinY: [-21.4, 13.2] as [number, number], zero: 0.49,
    series: [
      { c: GREEN, name: '420 nm', fit: A_FIT_420, dots: A_DOTS_420, dots2: A_DOTS2_420 },
      { c: BLUE, name: '470 nm', fit: A_FIT_470, dots: A_DOTS_470, dots2: A_DOTS2_470 },
      { c: NAVY, name: '525 nm', fit: A_FIT_525, dots: A_DOTS_525, dots2: A_DOTS2_525 },
      { c: PURPLE, name: '605 nm', fit: A_FIT_605, dots: A_DOTS_605, dots2: A_DOTS2_605 },
    ],
  },
  {
    letter: 'b', letterX: 413, title: 'low sodium, pH 7.2', titleX: 470, titleW: 143,
    border: { x: 388, w: 332, color: '#cfe9b6' }, plotX: 443,
    trace: B_TRACE, traceSd: B_TRACE_SD, traceColor: '#a2da80', bandColor: '#dcf1cd',
    start: 12, peakT: -4.19,
    comps: [
      { v: B_FIRST, sd: B_FIRST_SD, color: '#666' },
      { v: B_SECOND, sd: B_SECOND_SD, color: '#666' },
      { v: B_THIRD, sd: [], color: '#222' },
    ],
    pie: { v: B_INTEGRAL, cx: 636, cy: 140, start: -32 },
    heat: B_HEAT, heatLabels: B_HEAT_LABELS,
    kinY: [-21.18, 13.53] as [number, number], zero: 0.54,
    series: [
      { c: { ...GREEN, fit: GREEN.dot }, name: '420 nm', fit: B_FIT_420, dots: B_DOTS_420, dots2: [] },
      { c: BLUE, name: '490 nm', fit: B_FIT_490, dots: B_DOTS_490, dots2: B_DOTS2_490 },
      { c: NAVY, name: '550 nm', fit: B_FIT_550, dots: B_DOTS_550, dots2: B_DOTS2_550 },
      { c: PURPLE, name: '635 nm', fit: B_FIT_635, dots: B_DOTS_635, dots2: B_DOTS2_635 },
    ],
  },
  {
    letter: 'c', letterX: 751, title: 'low sodium, pH 9.0', titleX: 809, titleW: 144,
    border: { x: 735, w: 331, color: '#bcdfec' }, plotX: 785,
    trace: C_TRACE, traceSd: C_TRACE_SD, traceColor: '#a4cfe6', bandColor: '#dcecf5',
    start: 12, peakT: -4.22,
    comps: [
      { v: C_FIRST, sd: C_FIRST_SD, color: '#aaa' },
      { v: C_SECOND, sd: C_SECOND_SD, color: '#666' },
      { v: C_THIRD, sd: [], color: '#222' },
    ],
    pie: { v: C_INTEGRAL, cx: 980, cy: 137, start: -34 },
    heat: C_HEAT, heatLabels: C_HEAT_LABELS,
    kinY: [-21.32, 14.26] as [number, number], zero: 0.54,
    series: [
      { c: GREEN, name: '420 nm', fit: C_FIT_420, dots: C_DOTS_420, dots2: C_DOTS2_420 },
      { c: BLUE, name: '480 nm', fit: C_FIT_480, dots: C_DOTS_480, dots2: C_DOTS2_480 },
      { c: NAVY, name: '525 nm', fit: C_FIT_525, dots: C_DOTS_525, dots2: C_DOTS2_525 },
      { c: PURPLE, name: '625 nm', fit: C_FIT_625, dots: C_DOTS_625, dots2: C_DOTS2_625 },
    ],
  },
]

function heatColor(v: number) {
  const stops = HEAT_STOPS
  for (let i = 1; i < stops.length; i++) {
    if (v <= stops[i][0]) {
      const [v0, c0] = stops[i - 1]
      const [v1, c1] = stops[i]
      const f = Math.max(0, (v - v0) / (v1 - v0))
      const ch = (c: string, k: number) => parseInt(c.slice(1 + k * 2, 3 + k * 2), 16)
      const mix = [0, 1, 2].map((k) => Math.round(ch(c0, k) + (ch(c1, k) - ch(c0, k)) * f))
      return `rgb(${mix.join(',')})`
    }
  }
  return stops[stops.length - 1][1]
}

function TimeTick({ x, y, payload, showLabels }: any) {
  const major = Number.isInteger(payload.value)
  return (
    <g>
      <line x1={x} x2={x} y1={y} y2={y - (major ? 9 : 5)} stroke="#000" strokeWidth={2} />
      {showLabels && major && payload.value < 0 && (
        <text x={x + 6} y={y + 21} textAnchor="middle" fontFamily={FONT} fontSize={16} fill={INK}>
          10<tspan dy={-5} fontSize={10}>{payload.value}</tspan>
        </text>
      )}
    </g>
  )
}

function ValueTick({ x, y, payload, decimals, nudge, longEvery, labelDrop = 0 }: any) {
  const minor = longEvery && payload.value % longEvery !== 0
  const yy = y + (payload.value === 0 && nudge ? nudge : 0)
  return (
    <g>
      <line x1={x} x2={x + (minor ? 4 : 7)} y1={yy} y2={yy} stroke="#000" strokeWidth={2.5} />
      {!minor && (
        <text
          x={x - 14}
          y={yy + 5.5 + (payload.value === 700 ? labelDrop : 0)}
          textAnchor="end"
          fontFamily={FONT}
          fontSize={16}
          fill={INK}
        >
          {payload.value.toFixed(decimals)}
        </text>
      )}
    </g>
  )
}

const AXIS_LINE = { stroke: '#000', strokeWidth: 3.4 }

function timeAxis(height: number, showLabels: boolean) {
  return (
    <XAxis
      type="number"
      dataKey="x"
      domain={[-6, 0]}
      allowDataOverflow
      ticks={TIME_TICKS}
      interval={0}
      height={height}
      axisLine={AXIS_LINE}
      tickLine={false}
      tickSize={0}
      tickMargin={0}
      tick={(p: any) => <TimeTick {...p} showLabels={showLabels} />}
    />
  )
}

function photoRows(p: (typeof PANELS)[number]) {
  return PHOTO_TIMES.map((x, i) => {
    const row: any = { x }
    if (p.trace[i] != null) {
      const sd = p.traceSd[i] ?? 0.002
      row.trace = p.trace[i]
      row.traceBand = [p.trace[i] - sd, p.trace[i] + sd]
    }
    p.comps.forEach((c, k) => {
      const v = c.v[i - p.start]
      if (v != null) {
        const sd = c.sd[i - p.start] ?? 0.001
        row[`comp${k}`] = v
        row[`band${k}`] = [Math.max(v - sd, 0), v + sd]
      }
    })
    return row
  })
}

function PhotoChart({ p }: { p: (typeof PANELS)[number] }) {
  return (
    <div style={{ position: 'absolute', left: p.plotX - AXIS_W, top: 60 }}>
      <ComposedChart width={AXIS_W + PLOT_W + 3} height={268} data={photoRows(p)} margin={{ top: 0, right: 3, left: 0, bottom: 0 }}>
        {timeAxis(7, false)}
        <YAxis
          type="number"
          width={AXIS_W}
          domain={[-0.0506, 1.0506]}
          allowDataOverflow
          ticks={[0, 0.5, 1]}
          axisLine={AXIS_LINE}
          tickLine={false}
          tickSize={0}
          tickMargin={0}
          tick={(t: any) => <ValueTick {...t} decimals={1} />}
        />
        <Area dataKey="traceBand" stroke="none" fill={p.bandColor} fillOpacity={1} isAnimationActive={false} dot={false} activeDot={false} />
        <ReferenceLine y={0} stroke="#777" strokeDasharray="4 3" strokeWidth={1} />
        {p.comps.map((c, k) => (
          <Area key={k} dataKey={`band${k}`} stroke="none" fill="#bdbdbd" fillOpacity={0.45} isAnimationActive={false} dot={false} activeDot={false} />
        ))}
        <Line dataKey="trace" stroke={p.traceColor} strokeWidth={2.6} dot={false} activeDot={false} isAnimationActive={false} />
        {p.comps.map((c, k) => (
          <Line key={k} dataKey={`comp${k}`} stroke={c.color} strokeWidth={k === 2 ? 1.6 : 1.2} dot={false} activeDot={false} isAnimationActive={false} />
        ))}
        <ReferenceLine x={p.peakT} stroke="#777" strokeDasharray="4 2" strokeWidth={1.2} />
      </ComposedChart>
    </div>
  )
}

function IntegralPie({ pie }: { pie: (typeof PANELS)[number]['pie'] }) {
  const data = pie.v.map((value, i) => ({ name: `${i}`, value }))
  return (
    <div style={{ position: 'absolute', left: pie.cx - 62, top: pie.cy - 62, transform: 'scaleY(0.4)', transformOrigin: '62px 62px' }}>
      <PieChart width={124} height={170} margin={{ top: 0, right: 0, bottom: 0, left: 0 }}>
        {PIE_LAYERS.map((d) => (
          <Pie
            key={d}
            data={data}
            dataKey="value"
            cx={62}
            cy={62 + d}
            outerRadius={58}
            startAngle={pie.start}
            endAngle={pie.start + 360}
            stroke="none"
            isAnimationActive={false}
          >
            {data.map((_, i) => (
              <Cell key={i} fill={PIE_COLORS[i]} />
            ))}
          </Pie>
        ))}
        <Pie
          data={[{ name: 'rim', value: 1 }]}
          dataKey="value"
          cx={62}
          cy={62}
          innerRadius={57.2}
          outerRadius={58}
          startAngle={180}
          endAngle={360}
          stroke="none"
          fill="#c4c4c4"
          isAnimationActive={false}
        />
      </PieChart>
    </div>
  )
}

function HeatChart({ p }: { p: (typeof PANELS)[number] }) {
  const cells = HEAT_NM.flatMap((nm, r) => HEAT_TIMES.map((x, c) => ({ x, y: nm, v: p.heat[r][c] })))
  const cellW = PLOT_W / 12
  const cellH = 235 / 14
  const pad = 30
  const shape = (s: any) => {
    const left = s.payload.x === -6 ? pad : 0
    const right = s.payload.x === 0 ? pad : 0
    const top = s.payload.y === 700 ? pad : 0
    const bottom = s.payload.y === 350 ? pad : 0
    return (
      <rect
        x={s.cx - cellW / 2 - left}
        y={s.cy - cellH / 2 - top}
        width={cellW + left + right + 1}
        height={cellH + top + bottom + 1}
        fill={heatColor(s.payload.v)}
      />
    )
  }
  return (
    <>
      <div style={{ position: 'absolute', left: p.plotX, top: 339, width: PLOT_W, height: 235, overflow: 'hidden' }}>
        <div style={{ position: 'absolute', left: -pad, top: -pad, filter: 'blur(8px)' }}>
          <ScatterChart width={PLOT_W + 2 * pad} height={235 + 2 * pad} margin={{ top: pad, right: pad, left: pad, bottom: pad }}>
            <XAxis type="number" dataKey="x" domain={[-6, 0]} hide />
            <YAxis type="number" dataKey="y" domain={[350, 700]} hide />
            <Scatter data={cells} dataKey="y" shape={shape} isAnimationActive={false} />
          </ScatterChart>
        </div>
      </div>
      <div style={{ position: 'absolute', left: p.plotX - AXIS_W, top: 326 }}>
        <ComposedChart width={AXIS_W + PLOT_W + 3} height={255} margin={{ top: 12, right: 3, left: 0, bottom: 0 }}>
          {timeAxis(7, false)}
          <YAxis
            type="number"
            dataKey="y"
            width={AXIS_W}
            domain={[350, 700]}
            allowDataOverflow
            ticks={HEAT_TICKS}
            interval={0}
            axisLine={AXIS_LINE}
            tickLine={false}
            tickSize={0}
            tickMargin={0}
            tick={(t: any) => <ValueTick {...t} decimals={0} longEvery={100} labelDrop={4} />}
          />
          <Scatter
            data={p.heatLabels}
            dataKey="y"
            isAnimationActive={false}
            shape={(s: any) => (
              <text x={s.cx} y={s.cy + 6} textAnchor="middle" fontFamily={FONT} fontSize={16} fontWeight={700} fill={s.payload.fill}>
                {s.payload.name}
              </text>
            )}
          />
        </ComposedChart>
      </div>
    </>
  )
}

function KineticChart({ p }: { p: (typeof PANELS)[number] }) {
  const top = p.letter === 'c' ? 583 : 591
  const height = p.letter === 'c' ? 242 : 236
  return (
    <div style={{ position: 'absolute', left: p.plotX - AXIS_W, top }}>
      <ComposedChart width={AXIS_W + PLOT_W + 3} height={height + 32} margin={{ top: 0, right: 3, left: 0, bottom: 0 }}>
        {timeAxis(32, true)}
        <YAxis
          type="number"
          dataKey="y"
          width={AXIS_W}
          domain={p.kinY}
          allowDataOverflow
          ticks={KIN_TICKS}
          interval={0}
          axisLine={AXIS_LINE}
          tickLine={false}
          tickSize={0}
          tickMargin={0}
          tick={(t: any) => <ValueTick {...t} decimals={0} nudge={-4} />}
        />
        <ReferenceLine y={p.zero} stroke="#777" strokeDasharray="4 2" strokeWidth={1.2} />
        {p.series.map((s) => (
          <Line
            key={`fit${s.name}`}
            data={FIT_TIMES.map((x, i) => ({ x, y: s.fit[i] }))}
            dataKey="y"
            type="monotone"
            stroke={s.c.fit}
            strokeWidth={2.2}
            dot={false}
            activeDot={false}
            isAnimationActive={false}
          />
        ))}
        {p.series.map((s) => (
          <Scatter
            key={`dots${s.name}`}
            data={[
              ...DOT_TIMES.map((x, i) => ({ x, y: s.dots[i] })),
              ...s.dots2.map((y, i) => ({ x: DOT_TIMES_2[i], y })),
            ]}
            dataKey="y"
            isAnimationActive={false}
            shape={(d: any) => <circle cx={d.cx} cy={d.cy} r={1.1} fill={s.c.dot} />}
          />
        ))}
      </ComposedChart>
    </div>
  )
}

function T({ x, y, size = 15, fill = INK, w, anchor, rotate, weight, children }: any) {
  return (
    <text
      x={x}
      y={y}
      fontFamily={FONT}
      fontSize={size}
      fontWeight={weight}
      fill={fill}
      textAnchor={anchor}
      textLength={w}
      lengthAdjust={w ? 'spacingAndGlyphs' : undefined}
      transform={rotate ? `rotate(${rotate} ${x} ${y})` : undefined}
    >
      {children}
    </text>
  )
}

function Ord({ x, y, n, s, w = 15, fill }: any) {
  return (
    <T x={x} y={y} w={w} fill={fill} size={16}>
      {n}
      <tspan dy={-5} fontSize={9}>{s}</tspan>
    </T>
  )
}

function Tau({ x, y, i, text, w }: any) {
  return (
    <T x={x} y={y} w={w} size={15}>
      τ<tspan dy={3} fontSize={9}>{i}</tspan>
      <tspan dy={-3} dx={5}>{text}</tspan>
    </T>
  )
}

const ORDS = {
  a: { second: 155, first: 156, third: 155, firstY: 220, secondY: 195, thirdY: 293 },
  b: { second: 506, first: 507, third: 506, firstY: 143, secondY: 287, thirdY: 306 },
  c: { second: 846, first: 849, third: 846, firstY: 156, secondY: 287, thirdY: 307 },
}

function ColorBar({ x, split }: { x: number; split: number }) {
  return (
    <g>
      <rect x={x} y={549} width={71} height={13} fill="url(#heatBar)" stroke="#222" strokeWidth={1} />
      <line x1={split} x2={split} y1={549} y2={562} stroke="#222" strokeWidth={1.4} />
      <T x={x + 8} y={545} size={13} w={57}>Δabs [mOD]</T>
      <T x={x - 22} y={560} size={14} w={16}>-25</T>
      <T x={x + 74} y={560} size={14} w={12}>15</T>
    </g>
  )
}

function Legend({ x, rows, names }: any) {
  return (
    <g>
      {rows.map((y: number, i: number) => (
        <g key={i}>
          <line x1={x} x2={x + 12} y1={y} y2={y} stroke={[GREEN, BLUE, NAVY, PURPLE][i].dot} strokeWidth={2.5} />
          <T x={x + 18} y={y + 5} size={15} w={49}>{names[i]}</T>
        </g>
      ))}
    </g>
  )
}

function Constants({ left, right, ys, rows }: any) {
  return (
    <g>
      {rows.map((r: any, i: number) => (
        <g key={i}>
          <T x={left} y={ys[i]} size={15} fill={r.c.text} w={r.n.length > 1 ? 27 : undefined}>{r.n}</T>
          <T x={right} y={ys[i]} size={15} fill={r.c.text} anchor="end" w={r.v.length * 7.2}>{r.v}</T>
        </g>
      ))}
    </g>
  )
}

function Overlay() {
  return (
    <svg width={1070} height={873} style={{ position: 'absolute', left: 0, top: 0, pointerEvents: 'none' }}>
      <defs>
        <linearGradient id="heatBar" x1="0" x2="1" y1="0" y2="0">
          {HEAT_STOPS.slice(1).map(([v, c]) => (
            <stop key={v} offset={`${((v + 25) / 40) * 100}%`} stopColor={c} />
          ))}
        </linearGradient>
      </defs>
      {PANELS.map((p) => (
        <g key={p.letter}>
          <path
            d={`M${p.border.x} 880V9.5H${p.border.x + p.border.w}V880`}
            fill="none"
            stroke={p.border.color}
            strokeWidth={2.4}
          />
          <T x={p.letterX} y={40} size={23}>{p.letter}</T>
          <T x={p.titleX} y={40} size={16} w={p.titleW}>{p.title}</T>
        </g>
      ))}

      {/* a */}
      <T x={38} y={191} rotate={-90} anchor="middle" size={16} w={158}>photocurrent (norm.)</T>
      <T x={37} y={463} rotate={-90} anchor="middle" size={16} w={127}>wavelength [nm]</T>
      <T x={38} y={710} rotate={-90} anchor="middle" size={16} w={88}>Δabs [mOD]</T>
      <T x={307} y={77} size={16} w={38}>0 mV</T>
      <T x={217} y={112} size={16} w={43}>Integral</T>
      <T x={323} y={114} size={16} w={28}>53 %</T>
      <T x={237} y={200} size={16} w={27}>39 %</T>
      <T x={320} y={200} size={16} w={22}>9 %</T>
      <Ord x={ORDS.a.second} y={ORDS.a.secondY} n="2" s="nd" />
      <Ord x={ORDS.a.first} y={ORDS.a.firstY} n="1" s="st" w={12} />
      <Ord x={ORDS.a.third} y={ORDS.a.thirdY} n="3" s="rd" />
      <Ord x={310} y={136} n="3" s="rd" w={14} fill="#fff" />
      <Ord x={256} y={157} n="2" s="nd" />
      <Ord x={311} y={161} n="1" s="st" w={13} />
      <Tau x={245} y={233} i="1" text="0.16±0.06 ms" w={99} />
      <Tau x={245} y={254} i="2" text="0.65±0.10 ms" w={98} />
      <Tau x={245} y={276} i="3" text="5.2±0.4 ms" w={84} />
      <ColorBar x={257} split={300} />
      <Legend x={286} rows={[600, 617, 633, 648]} names={['420 nm', '470 nm', '525 nm', '605 nm']} />
      <Constants
        left={283}
        right={353}
        ys={[748, 764, 780, 796, 812]}
        rows={[
          { n: 'K', v: '25 µs', c: PURPLE },
          { n: 'L', v: '691 µs', c: BLUE },
          { n: 'M', v: '774 µs', c: GREEN },
          { n: 'O', v: '15 ms', c: PURPLE },
          { n: 'DSB', v: '15 ms', c: NAVY },
        ]}
      />
      <T x={117} y={606} anchor="middle" size={15}>K</T>
      <T x={242} y={617} anchor="middle" size={15}>O</T>
      <T x={182} y={662} anchor="middle" size={15}>M</T>
      <T x={199} y={695} anchor="middle" size={15}>L</T>
      <T x={219} y={800} anchor="middle" size={15}>DSB</T>
      <T x={186} y={867} size={16} w={54}>time [s]</T>

      {/* b */}
      <T x={660} y={77} size={16} w={38}>0 mV</T>
      <T x={573} y={109} size={16} w={43}>Integral</T>
      <T x={672} y={109} size={16} w={28}>74 %</T>
      <T x={606} y={197} size={16} w={27}>12 %</T>
      <T x={660} y={196} size={16} w={27}>14 %</T>
      <Ord x={ORDS.b.first} y={ORDS.b.firstY} n="1" s="st" w={14} />
      <Ord x={ORDS.b.second} y={ORDS.b.secondY} n="2" s="nd" />
      <Ord x={ORDS.b.third} y={ORDS.b.thirdY} n="3" s="rd" />
      <Ord x={665} y={135} n="3" s="rd" w={14} fill="#fff" />
      <Ord x={619} y={162} n="2" s="nd" />
      <Ord x={653} y={160} n="1" s="st" w={13} />
      <Tau x={598} y={233} i="1" text="0.16±0.08 ms" w={100} />
      <Tau x={598} y={254} i="2" text="1.1±0.4 ms" w={86} />
      <Tau x={598} y={276} i="3" text="36±5 ms" w={72} />
      <ColorBar x={610} split={652} />
      <Legend x={639} rows={[600, 617, 633, 648]} names={['420 nm', '490 nm', '550 nm', '635 nm']} />
      <Constants
        left={637}
        right={706}
        ys={[795, 811]}
        rows={[
          { n: 'K', v: '114 µs', c: PURPLE },
          { n: 'DSB', v: '78 ms', c: NAVY },
        ]}
      />
      <T x={469} y={614} anchor="middle" size={15}>K</T>
      <T x={573} y={762} anchor="middle" size={15}>DSB</T>
      <T x={536} y={867} size={16} w={54}>time [s]</T>

      {/* c */}
      <T x={1002} y={77} size={16} w={38}>0 mV</T>
      <T x={918} y={110} size={16} w={43}>Integral</T>
      <T x={1017} y={112} size={16} w={28}>77 %</T>
      <T x={958} y={198} size={16} w={28}>13 %</T>
      <T x={1011} y={193} size={16} w={27}>10 %</T>
      <Ord x={ORDS.c.first} y={ORDS.c.firstY} n="1" s="st" w={13} />
      <Ord x={ORDS.c.second} y={ORDS.c.secondY} n="2" s="nd" />
      <Ord x={ORDS.c.third} y={ORDS.c.thirdY} n="3" s="rd" />
      <Ord x={1011} y={137} n="3" s="rd" w={14} fill="#fff" />
      <Ord x={969} y={162} n="2" s="nd" />
      <Ord x={1004} y={159} n="1" s="st" w={13} />
      <Tau x={937} y={229} i="1" text="0.10±0.03 ms" w={98} />
      <Tau x={937} y={251} i="2" text="0.68±0.14 ms" w={98} />
      <Tau x={937} y={272} i="3" text="30±6 ms" w={70} />
      <ColorBar x={949} split={990} />
      <Legend x={980} rows={[592, 609, 626, 642]} names={['420 nm', '480 nm', '525 nm', '625 nm']} />
      <Constants
        left={978}
        right={1047}
        ys={[743, 759, 777, 792, 808]}
        rows={[
          { n: 'K', v: '25 µs', c: PURPLE },
          { n: 'L', v: '778 µs', c: BLUE },
          { n: 'M', v: '1 ms', c: GREEN },
          { n: 'O', v: '16 ms', c: PURPLE },
          { n: 'DSB', v: '22 ms', c: NAVY },
        ]}
      />
      <T x={811} y={619} anchor="middle" size={15}>K</T>
      <T x={881} y={660} anchor="middle" size={15}>M</T>
      <T x={935} y={635} anchor="middle" size={15}>O</T>
      <T x={882} y={709} anchor="middle" size={15}>L</T>
      <T x={901} y={796} anchor="middle" size={15}>DSB</T>
      <T x={878} y={867} size={16} w={54}>time [s]</T>
    </svg>
  )
}

export default function App() {
  return (
    <div style={{ position: 'absolute', left: 0, top: 0, width: 1070, height: 873, overflow: 'hidden', background: '#fff' }}>
      {PANELS.map((p) => (
        <div key={p.letter}>
          <PhotoChart p={p} />
          <IntegralPie pie={p.pie} />
          <HeatChart p={p} />
          <KineticChart p={p} />
        </div>
      ))}
      <Overlay />
    </div>
  )
}
